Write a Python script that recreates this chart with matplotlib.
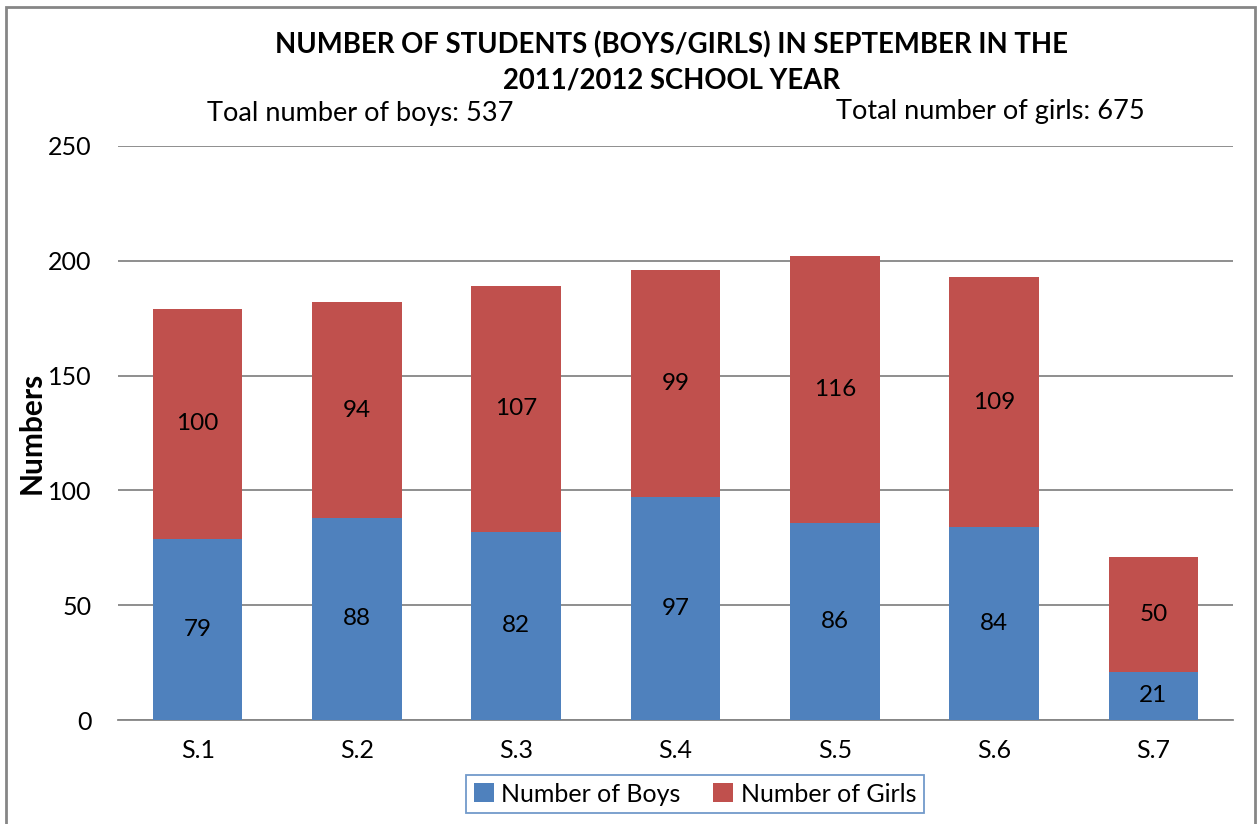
import matplotlib.pyplot as plt
import numpy as np
from matplotlib.patches import Rectangle

plt.rcParams['font.family'] = ['Lato', 'DejaVu Sans']

classes = ["S.1", "S.2", "S.3", "S.4", "S.5", "S.6", "S.7"]
boys = [79, 88, 82, 97, 86, 84, 21]
girls = [100, 94, 107, 99, 116, 109, 50]
yticks = [0, 50, 100, 150, 200, 250]

W, H = 1259, 824
fig = plt.figure(figsize=(W / 100, H / 100), dpi=100)
ax = fig.add_axes([118 / W, 1 - 720 / H, (1233 - 118) / W, (720 - 146) / H])

x = np.arange(len(classes))
b1 = ax.bar(x, boys, width=0.5625, color="#4F81BD", label="Number of Boys", zorder=3)
b2 = ax.bar(x, girls, width=0.5625, bottom=boys, color="#C0504D", label="Number of Girls", zorder=3)
ax.bar_label(b1, label_type="center", fontsize=17.5)
ax.bar_label(b2, label_type="center", fontsize=17.5)

ax.set_xlim(-0.5, len(classes) - 0.5)
ax.set_ylim(0, 250)
ax.set_yticks(yticks)
ax.set_xticks(x)
ax.set_xticklabels(classes)
ax.tick_params(axis="both", length=0, labelsize=18)
ax.tick_params(axis="y", pad=19)
ax.tick_params(axis="x", pad=14)
ax.grid(axis="y", color="#868686", linewidth=1.3, zorder=0)
for s in ["top", "right", "left"]:
    ax.spines[s].set_visible(False)
ax.spines["bottom"].set_color("#868686")
ax.spines["bottom"].set_linewidth(1.3)
fig.text(32 / W, 1 - 433 / H, "Numbers", rotation=90, ha="center", va="center",
         fontsize=21.5, fontweight="bold")

fig.text(672 / W, 1 - 45 / H, "NUMBER OF STUDENTS (BOYS/GIRLS) IN SEPTEMBER IN THE",
         ha="center", va="center", fontsize=19.8, fontweight="bold")
fig.text(672 / W, 1 - 80 / H, "2011/2012 SCHOOL YEAR",
         ha="center", va="center", fontsize=19.8, fontweight="bold")
fig.text(360 / W, 1 - 113 / H, "Toal number of boys: 537", ha="center", va="center", fontsize=19.5)
fig.text(990 / W, 1 - 112 / H, "Total number of girls: 675", ha="center", va="center", fontsize=19.5)

leg = fig.legend(loc="center", bbox_to_anchor=(695 / W, 1 - 794 / H), ncol=2, fontsize=18,
                 frameon=True, fancybox=False, handlelength=0.8, handleheight=0.8,
                 handletextpad=0.3, columnspacing=1.3, borderpad=0.3, borderaxespad=0)
leg.get_frame().set_edgecolor("#4F81BD")
leg.get_frame().set_linewidth(1.3)

fig.patches.append(Rectangle((6 / W, -0.05), (1255 - 6) / W, 1.05 - 7 / H,
                             transform=fig.transFigure, fill=False,
                             edgecolor="#868686", linewidth=2))

fig.savefig("out.png", dpi=100)
